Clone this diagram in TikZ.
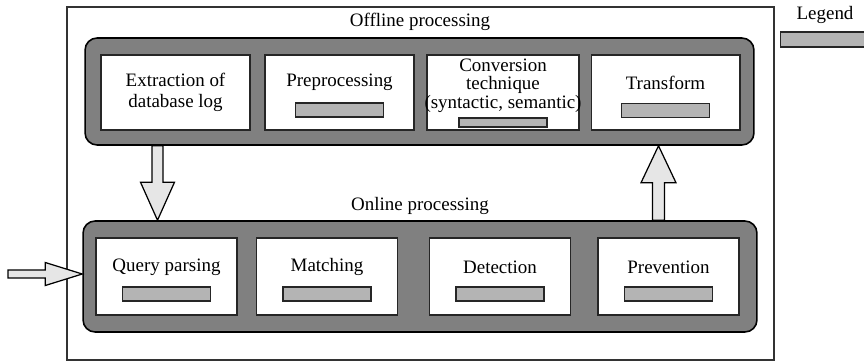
\documentclass[tikz,border=0pt]{standalone}
\usepackage{fontspec}
\setmainfont{Liberation Serif}
\usetikzlibrary{calc}
\usetikzlibrary{positioning}
\definecolor{grp}{RGB}{128,128,128}
\definecolor{barc}{RGB}{180,180,180}
\definecolor{arrc}{RGB}{230,230,230}

\tikzset{
	group/.style={draw=black, line width=0.9pt, fill=grp, rounded corners=0.24cm, inner sep=0pt},
	stage/.style={draw=black!85, line width=0.6pt, fill=white, inner sep=0pt},
	bar/.style={draw=black!85, line width=0.6pt, fill=barc, minimum width=1.76cm, minimum height=0.28cm, inner sep=0pt},
	blkarrow/.style={draw=black, line width=0.7pt, fill=arrc, line join=miter},
	lbl/.style={align=center, inner sep=0pt}
}

% block arrow: from, to, shaft half width, head half width, head length
\newcommand{\blockarr}[5]{
	\path ($(#2)!#5!(#1)$) coordinate (hb);
	\draw[blkarrow] ($(#1)!#3!90:(#2)$) -- ($(hb)!#3!-90:(#1)$) -- ($(hb)!#4!-90:(#1)$) -- (#2)
		-- ($(hb)!#4!90:(#1)$) -- ($(hb)!#3!90:(#1)$) -- ($(#1)!#3!-90:(#2)$) -- cycle;
}

\begin{document}
\begin{tikzpicture}[x=0.02cm, y=-0.02cm, font=\fontsize{10.8}{12}\selectfont]
	\useasboundingbox (0,0) rectangle (864,362);
	
	\draw[line width=0.6pt, black!80] (67,7) rectangle (774,360);
	
	% groups
	\node[group, minimum width=13.38cm, minimum height=2.14cm] (off) at (419.5,91.5) {};
	\node[group, minimum width=13.48cm, minimum height=2.22cm] (on) at (420,276.5) {};
	\node[lbl] (offlbl) at (420,22) {Offline processing};
	\node[lbl] (onlbl) at (420,206) {Online processing};
	
	% offline stages
	\foreach \nm/\cx/\bw in {ex/175.5/2.98, pre/339.5/2.98, conv/503/3.04, trans/665.5/2.98}
	{
		\node[stage, minimum width=\bw cm, minimum height=1.5cm] (\nm) at (\cx,92.5) {};
	}
	\node[lbl] (ex-t) at (175.5,92.5) {Extraction of\\database log};
	\node[lbl] (pre-t) at (339.5,82) {Preprocessing};
	\node[bar] (pre-b) at (339.5,110) {};
	\node[lbl] (conv-t) at (503,85.5) {Conversion\\[-1.5pt]technique\\[-1.5pt](syntactic, semantic)};
	\node[bar, minimum height=0.18cm] (conv-b) at (503,122.5) {};
	\node[lbl] (trans-t) at (665.5,83) {Transform};
	\node[bar] (trans-b) at (665.5,110.5) {};
	
	% online stages
	\foreach \nm/\cx/\txt in {qp/166.5/Query parsing, mat/327/Matching, det/500/Detection, prev/668.5/Prevention}
	{
		\node[stage, minimum width=2.82cm, minimum height=1.54cm] (\nm) at (\cx,276.5) {};
		\node[lbl] (\nm-t) at (\cx,267) {\txt};
		\node[bar] (\nm-b) at (\cx,294) {};
	}
	
	% legend
	\node[lbl] (leg) at (825,15) {Legend};
	\node[bar, minimum width=2cm, minimum height=0.3cm, anchor=west] (legbar) at (780,39.5) {};
	
	% arrows
	\coordinate (dnx) at (157.5,0);
	\coordinate (upx) at (658.5,0);
	\coordinate (inp) at (8,274);
	\coordinate (dnA) at (off.south -| dnx);
	\coordinate (dnB) at (on.north -| dnx);
	\coordinate (upA) at (on.north -| upx);
	\coordinate (upB) at (off.south -| upx);
	\coordinate (inB) at (on.west |- inp);
	\blockarr{dnA}{dnB}{0.11cm}{0.34cm}{0.76cm}
	\blockarr{upA}{upB}{0.12cm}{0.35cm}{0.74cm}
	\blockarr{inp}{inB}{0.08cm}{0.23cm}{0.74cm}
	
\end{tikzpicture}
\end{document}
